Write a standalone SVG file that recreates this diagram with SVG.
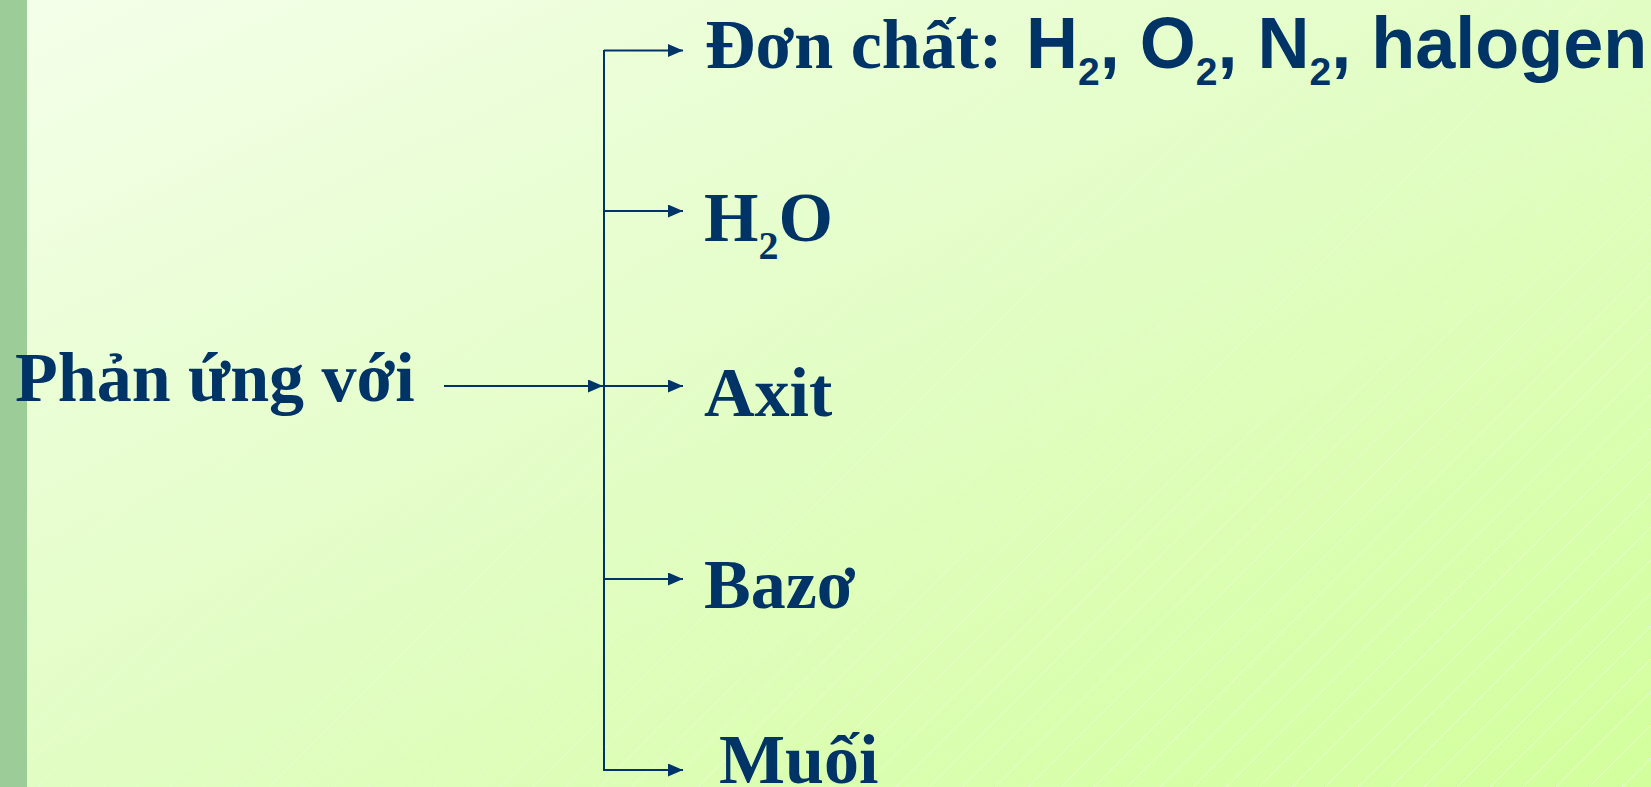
<svg xmlns="http://www.w3.org/2000/svg" width="1651" height="787" viewBox="0 0 1651 787">
  <defs>
    <linearGradient id="bg" x1="0" y1="0" x2="1" y2="1">
      <stop offset="0" stop-color="#f4ffea"/>
      <stop offset="0.5" stop-color="#e2fdc4"/>
      <stop offset="1" stop-color="#d2ff9c"/>
    </linearGradient>
    <linearGradient id="fade" x1="0" y1="0" x2="1" y2="1">
      <stop offset="0.3" stop-color="#fff" stop-opacity="0"/>
      <stop offset="1" stop-color="#fff" stop-opacity="1"/>
    </linearGradient>
    <pattern id="diag" width="33" height="33" patternUnits="userSpaceOnUse">
      <path d="M0,33 L33,0 M-2,2 L2,-2 M31,35 L35,31" stroke="#ffffff" stroke-width="1" stroke-opacity="0.55"/>
    </pattern>
    <mask id="m">
      <rect width="1651" height="787" fill="url(#fade)"/>
    </mask>
    <marker id="arr" markerWidth="15" markerHeight="13" refX="15" refY="6.5" orient="auto" markerUnits="userSpaceOnUse">
      <path d="M0,0 L15,6.5 L0,13 Z" fill="#003366"/>
    </marker>
    <style>
      .t { font-family: "Liberation Serif", "Times New Roman", serif; font-weight: bold; font-size: 70px; fill: #003366; }
      .s { font-family: "Liberation Sans", Arial, sans-serif; font-weight: bold; font-size: 72px; fill: #003366; }
      .c { stroke: #003366; stroke-width: 2; fill: none; }
    </style>
  </defs>
  <rect width="1651" height="787" fill="url(#bg)"/>
  <rect width="1651" height="787" fill="url(#diag)" mask="url(#m)"/>
  <rect x="0" y="0" width="27" height="787" fill="#9ccc98"/>

  <g id="connectors">
    <line class="c" x1="604" y1="50" x2="604" y2="771"/>
    <line class="c" x1="444" y1="386" x2="603" y2="386" marker-end="url(#arr)"/>
    <line class="c" x1="604" y1="50.5" x2="683" y2="50.5" marker-end="url(#arr)"/>
    <line class="c" x1="604" y1="211" x2="683" y2="211" marker-end="url(#arr)"/>
    <line class="c" x1="604" y1="386" x2="683" y2="386" marker-end="url(#arr)"/>
    <line class="c" x1="604" y1="579" x2="683" y2="579" marker-end="url(#arr)"/>
    <line class="c" x1="604" y1="770" x2="683" y2="770" marker-end="url(#arr)"/>
  </g>

  <g id="node-phan-ung">
    <text class="t" x="15" y="401">Phản ứng với</text>
  </g>
  <g id="node-don-chat">
    <text class="t" x="705" y="68">Đơn chất:</text>
    <text class="s" x="1026" y="68">H<tspan font-size="39" dy="17">2</tspan><tspan dy="-17">, O</tspan><tspan font-size="39" dy="17">2</tspan><tspan dy="-17">, N</tspan><tspan font-size="39" dy="17">2</tspan><tspan dy="-17">, halogen</tspan></text>
  </g>
  <g id="node-h2o">
    <text class="t" x="704" y="241">H<tspan font-size="40" dy="18">2</tspan><tspan dy="-18">O</tspan></text>
  </g>
  <g id="node-axit">
    <text class="t" x="704" y="416">Axit</text>
  </g>
  <g id="node-bazo">
    <text class="t" x="704" y="608">Bazơ</text>
  </g>
  <g id="node-muoi">
    <text class="t" x="719" y="783">Muối</text>
  </g>
</svg>
